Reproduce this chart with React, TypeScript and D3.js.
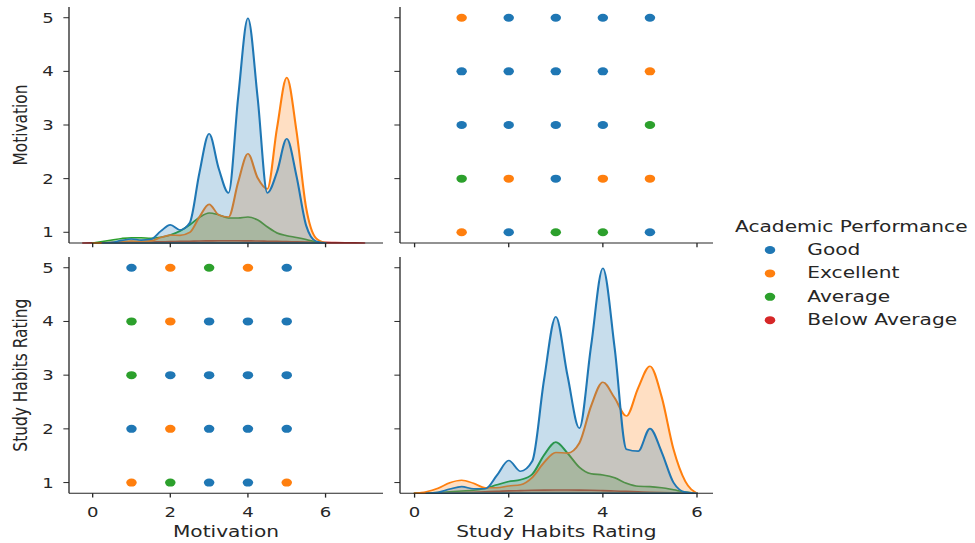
import React from 'react';
import * as d3 from 'd3';

// The reference picture is stretched sideways, so the chart is laid out in a
// narrower viewBox and scaled out to the full 975px width.
const SX = 1.31;
const WIDTH = 975;
const HEIGHT = 543;

const variables = ['Motivation', 'Study Habits Rating'];
const performanceLevels = ['Good', 'Excellent', 'Average', 'Below Average'];
const palette = ['#1f77b4', '#ff7f0e', '#2ca02c', '#d62728'];

// scatter points: the visible (top) point of every rating pair
const motivation = [1, 2, 3, 4, 5, 1, 2, 3, 4, 5, 1, 2, 3, 4, 5, 1, 2, 3, 4, 5, 1, 2, 3, 4, 5];
const studyHabits = [5, 5, 5, 5, 5, 4, 4, 4, 4, 4, 3, 3, 3, 3, 3, 2, 2, 2, 2, 2, 1, 1, 1, 1, 1];
const performance = [
	'Good', 'Excellent', 'Average', 'Excellent', 'Good',
	'Average', 'Excellent', 'Good', 'Good', 'Good',
	'Average', 'Good', 'Good', 'Good', 'Good',
	'Good', 'Excellent', 'Good', 'Good', 'Good',
	'Excellent', 'Average', 'Good', 'Good', 'Excellent',
];

const xTicks = [0, 2, 4, 6];
const yTicks = [1, 2, 3, 4, 5];

// kde curves (density, arbitrary units)
const motivationGrid = [-0.25, 0, 0.25, 0.5, 0.75, 1, 1.25, 1.5, 1.75, 2, 2.25, 2.5, 2.75, 3, 3.25, 3.5, 3.75, 4, 4.25, 4.5, 4.75, 5, 5.25, 5.5, 5.75, 6, 6.25, 6.5, 6.75, 7];
const motivationKdeGood = [null, null, 0, 0.7, 2.6, 4, 2.9, 3.7, 11.7, 18.1, 13, 20, 70, 109, 74, 50, 146, 224.3, 145, 50, 71, 104, 67, 17.5, 1.9, 0, null, null, null, null];
const motivationKdeExcellent = [null, 0, 0.1, 0.4, 1.4, 2, 1.6, 2.1, 5.4, 7.9, 7.6, 10.5, 26, 38.5, 28, 26, 61, 89, 65, 54, 115, 165, 112, 35, 5, 0, null, null, null, null];
const motivationKdeAverage = [null, 0, 1.5, 3, 4.5, 5.3, 5.2, 4.8, 5.8, 8, 12, 18, 25.5, 30, 28, 25, 25, 26, 23, 16, 10, 7.3, 5.5, 3.5, 1.2, 0, null, null, null, null];
const motivationKdeBelow = [0, 0.15, 0.25, 0.4, 0.55, 0.7, 0.85, 1.0, 1.2, 1.4, 1.6, 1.8, 2.0, 2.1, 2.2, 2.2, 2.2, 2.1, 2.0, 1.8, 1.6, 1.4, 1.2, 1.0, 0.8, 0.6, 0.45, 0.3, 0.15, 0];

const studyGrid = [0, 0.25, 0.5, 0.75, 1, 1.25, 1.5, 1.75, 2, 2.25, 2.5, 2.75, 3, 3.25, 3.5, 3.75, 4, 4.25, 4.5, 4.75, 5, 5.25, 5.5, 5.75, 6];
const studyKdeGood = [null, 0, 1.1, 4.3, 6.7, 4.6, 4.5, 18, 32.7, 22, 32, 113, 176, 117, 65, 147, 224.3, 145, 44, 42, 64.5, 41, 10.8, 1.2, 0];
const studyKdeExcellent = [0, 1.5, 5, 10.5, 13, 10, 5.5, 5.5, 7.3, 8.5, 15.8, 30.7, 40.7, 40, 50, 87, 110.7, 95, 77, 105, 126.7, 96, 44, 12, 0];
const studyKdeAverage = [0, 0.2, 0.7, 1.5, 2.3, 3, 5, 8.5, 11.7, 13.5, 19, 38, 51, 40, 26, 19.5, 18.3, 15.5, 10, 7, 6.7, 5.5, 3.5, 1.3, 0];
const studyKdeBelow = [0, 0.1, 0.2, 0.4, 0.7, 1.1, 1.5, 1.9, 2.4, 2.7, 3.0, 3.2, 3.3, 3.3, 3.2, 3.0, 2.7, 2.3, 1.9, 1.5, 1.1, 0.8, 0.5, 0.2, 0];

const font = '"DejaVu Sans", sans-serif';
const ink = '#262626';
const labelSize = 15.4;

export default function App() {
	// panel boxes, measured in picture pixels
	const cols = [
		{ x0: 69, x1: 383, domain: [-0.61, 7.48] },
		{ x0: 400, x1: 713, domain: [-0.31, 6.34] },
	];
	const rows = [
		{ y0: 7, y1: 243 },
		{ y0: 257, y1: 493.3 },
	];
	const xScales = cols.map(c => d3.scaleLinear().domain(c.domain).range([c.x0 / SX, c.x1 / SX]));
	const yScales = rows.map(r => d3.scaleLinear().domain([0.8, 5.2]).range([r.y1, r.y0]));

	const kdes = [
		{ grid: motivationGrid, series: [motivationKdeGood, motivationKdeExcellent, motivationKdeAverage, motivationKdeBelow] },
		{ grid: studyGrid, series: [studyKdeGood, studyKdeExcellent, studyKdeAverage, studyKdeBelow] },
	];
	const values = [motivation, studyHabits];
	const color = d3.scaleOrdinal<string, string>().domain(performanceLevels).range(palette);

	const tickLen = 4.3;

	const drawDiag = (i: number) => {
		const { grid, series } = kdes[i];
		const top = (d3.max(series.flat() as number[]) || 1) * 1.05;
		const dy = d3.scaleLinear().domain([0, top]).range([rows[i].y1, rows[i].y0]);
		const area = d3
			.area<any>()
			.defined(d => d[1] != null)
			.x(d => xScales[i](d[0]))
			.y0(dy(0))
			.y1(d => dy(d[1]))
			.curve(d3.curveMonotoneX);
		// seaborn draws the hue levels in reverse, so "Good" ends up on top
		return [3, 2, 1, 0].map(k => (
			<path
				key={'kde' + k}
				d={area(grid.map((x, j) => [x, series[k][j]])) || ''}
				fill={palette[k]}
				fillOpacity={0.25}
				stroke={palette[k]}
				strokeWidth={1.6}
				strokeLinejoin="round"
			/>
		));
	};

	const drawScatter = (r: number, c: number) =>
		performance.map((p, i) => (
			<circle
				key={'pt' + i}
				cx={xScales[c](values[c][i])}
				cy={yScales[r](values[r][i])}
				r={4}
				fill={color(p)}
			/>
		));

	const panels = [];
	for (let r = 0; r < 2; r++) {
		for (let c = 0; c < 2; c++) {
			const x0 = cols[c].x0 / SX;
			const x1 = cols[c].x1 / SX;
			const y0 = rows[r].y0;
			const y1 = rows[r].y1;
			panels.push(
				<g key={`p${r}${c}`}>
					{r === c ? drawDiag(r) : drawScatter(r, c)}
					<line x1={x0} x2={x0} y1={y0} y2={y1} stroke={ink} strokeWidth={1} />
					<line x1={x0} x2={x1} y1={y1} y2={y1} stroke={ink} strokeWidth={1} />
					{yTicks.map(t => (
						<g key={'y' + t}>
							<line x1={x0 - tickLen} x2={x0} y1={yScales[r](t)} y2={yScales[r](t)} stroke={ink} strokeWidth={1} />
							{c === 0 && (
								<text x={x0 - tickLen - 7.4} y={yScales[r](t) + 5} textAnchor="end" fontSize={13.8} fill={ink}>
									{t}
								</text>
							)}
						</g>
					))}
					{xTicks.map(t => (
						<g key={'x' + t}>
							<line x1={xScales[c](t)} x2={xScales[c](t)} y1={y1} y2={y1 + tickLen} stroke={ink} strokeWidth={1} />
							{r === 1 && (
								<text x={xScales[c](t)} y={516.7} textAnchor="middle" fontSize={13.8} fill={ink}>
									{t}
								</text>
							)}
						</g>
					))}
					{c === 0 && (
						<text
							transform={`translate(${27 / SX},${(y0 + y1) / 2}) rotate(-90)`}
							textAnchor="middle"
							fontSize={labelSize}
							fill={ink}
						>
							{variables[r]}
						</text>
					)}
					{r === 1 && (
						<text x={(x0 + x1) / 2} y={537.5} textAnchor="middle" fontSize={labelSize} fill={ink}>
							{variables[c]}
						</text>
					)}
				</g>
			);
		}
	}

	return (
		<svg
			width={WIDTH}
			height={HEIGHT}
			viewBox={`0 0 ${WIDTH / SX} ${HEIGHT}`}
			preserveAspectRatio="none"
			style={{ position: 'absolute', left: 0, top: 0, display: 'block', background: '#fff' }}
			fontFamily={font}
		>
			{panels}
			<g>
				<text x={735 / SX} y={231.7} fontSize={labelSize} fill={ink}>
					Academic Performance
				</text>
				{performanceLevels.map((p, i) => (
					<g key={p}>
						<circle cx={770 / SX} cy={250 + i * 23.4} r={4} fill={palette[i]} />
						<text x={807.3 / SX} y={255 + i * 23.4} fontSize={labelSize} fill={ink}>
							{p}
						</text>
					</g>
				))}
			</g>
		</svg>
	);
}
